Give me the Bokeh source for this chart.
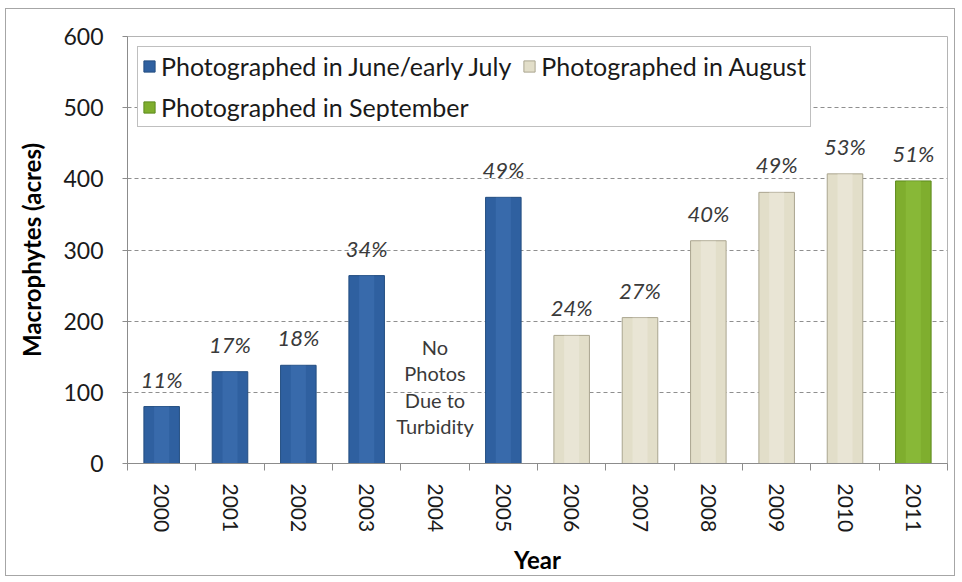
from bokeh.plotting import figure
from bokeh.models import FixedTicker, Legend, LegendItem, ColumnDataSource, Range1d
from bokeh.core.properties import value
from bokeh.embed import file_html
from bokeh.resources import INLINE

years = ["2000", "2001", "2002", "2003", "2004", "2005", "2006", "2007", "2008", "2009", "2010", "2011"]
acres = [80, 129, 138, 264, None, 374, 180, 205, 313, 381, 407, 397]
percent = ["11%", "17%", "18%", "34%", "", "49%", "24%", "27%", "40%", "49%", "53%", "51%"]
season = ["June/early July", "June/early July", "June/early July", "June/early July", None,
          "June/early July", "August", "August", "August", "August", "August", "September"]
legend_labels = {"June/early July": "Photographed in June/early July",
                 "August": "Photographed in August",
                 "September": "Photographed in September"}
no_photo_year = "2004"
no_photo_text = "No\nPhotos\nDue to\nTurbidity"
no_photo_level = 108

FONT = "Lato"
colors = {"June/early July": ("#2f60a0", "#234d80", "#4a7fc0"),
          "August": ("#e2dec9", "#aaa58f", "#f6f4ec"),
          "September": ("#7fae2e", "#5d8a1c", "#9ccc48")}

p = figure(width=950, height=568, output_backend="svg", toolbar_location=None,
           x_range=Range1d(-0.5, len(years) - 0.5), y_range=Range1d(0, 600),
           min_border_left=121, min_border_right=9, min_border_top=27, min_border_bottom=114)
p.styles = {"margin": "8px 0 0 5px", "border": "1px solid #a6a6a6"}
p.outline_line_color = "#b4b4b4"
p.background_fill_color = "white"
p.border_fill_color = "white"

renderers = {}
for key in ["June/early July", "August", "September"]:
    idx = [i for i, s in enumerate(season) if s == key]
    src = ColumnDataSource(dict(x=idx, top=[acres[i] for i in idx]))
    fill, line, hi = colors[key]
    r = p.vbar(x="x", top="top", width=0.52, source=src, fill_color=fill, line_color=line, line_width=1)
    p.vbar(x="x", top="top", width=0.22, source=src, fill_color=hi, fill_alpha=0.35, line_color=None)
    renderers[key] = r

lab_idx = [i for i, v in enumerate(acres) if v is not None]
lab_src = ColumnDataSource(dict(x=lab_idx, y=[acres[i] for i in lab_idx], t=[percent[i] for i in lab_idx]))
p.text(x="x", y="y", text="t", source=lab_src, text_align="center", text_baseline="bottom",
       y_offset=-14, text_font=value(FONT), text_font_style="italic", text_font_size="22px",
       text_color="#3a3a3a")

p.text(x=[years.index(no_photo_year)], y=[no_photo_level], text=[no_photo_text], text_align="center",
       text_baseline="middle", text_font=value(FONT), text_font_size="20px", text_color="#3a3a3a",
       text_line_height=1.1)

# axes
p.xaxis.ticker = FixedTicker(ticks=list(range(len(years))),
                             minor_ticks=[i - 0.5 for i in range(len(years) + 1)])
p.xaxis.major_label_overrides = {i: y for i, y in enumerate(years)}
p.xaxis.major_label_orientation = "vertical"
p.xaxis.major_tick_out = 0
p.xaxis.major_tick_in = 0
p.xaxis.minor_tick_out = 7
p.xaxis.minor_tick_in = 0
p.xaxis.major_label_standoff = 13
p.xaxis.axis_label = "Year"
p.xaxis.axis_label_standoff = 10

p.yaxis.ticker = FixedTicker(ticks=[0, 100, 200, 300, 400, 500, 600], minor_ticks=[])
p.yaxis.major_tick_out = 5
p.yaxis.major_tick_in = 0
p.yaxis.major_label_standoff = 19
p.yaxis.axis_label = "Macrophytes (acres)"
p.yaxis.axis_label_standoff = 14

for ax in (p.xaxis[0], p.yaxis[0]):
    ax.axis_line_color = "#8c8c8c"
    ax.major_tick_line_color = "#8c8c8c"
    ax.minor_tick_line_color = "#8c8c8c"
    ax.major_label_text_font = FONT
    ax.major_label_text_color = "#1a1a1a"
    ax.axis_label_text_font = FONT
    ax.axis_label_text_font_size = "24px"
    ax.axis_label_text_font_style = "bold"
    ax.axis_label_text_color = "#000000"
p.xaxis.major_label_text_font_size = "21px"
p.yaxis.major_label_text_font_size = "23px"

p.xgrid.grid_line_color = None
p.ygrid.ticker = FixedTicker(ticks=[100, 200, 300, 400, 500])
p.ygrid.grid_line_color = "#8f8f8f"
p.ygrid.grid_line_dash = "4 3"
p.ygrid.grid_line_width = 1

legend = Legend(items=[LegendItem(label=legend_labels[k], renderers=[renderers[k]])
                       for k in ["June/early July", "August", "September"]],
                location="top_left", orientation="horizontal", ncols=2)
legend.margin = 10
legend.padding = 4
legend.spacing = 11
legend.label_text_font = FONT
legend.label_text_font_size = "25px"
legend.label_text_color = "#1a1a1a"
legend.glyph_width = 14
legend.glyph_height = 14
legend.label_standoff = 5
legend.label_height = 22
legend.border_line_color = "#7f7f7f"
legend.border_line_width = 1
legend.background_fill_color = "white"
legend.background_fill_alpha = 1
p.add_layout(legend, "center")

open("out.html", "w").write(file_html(p, INLINE))
